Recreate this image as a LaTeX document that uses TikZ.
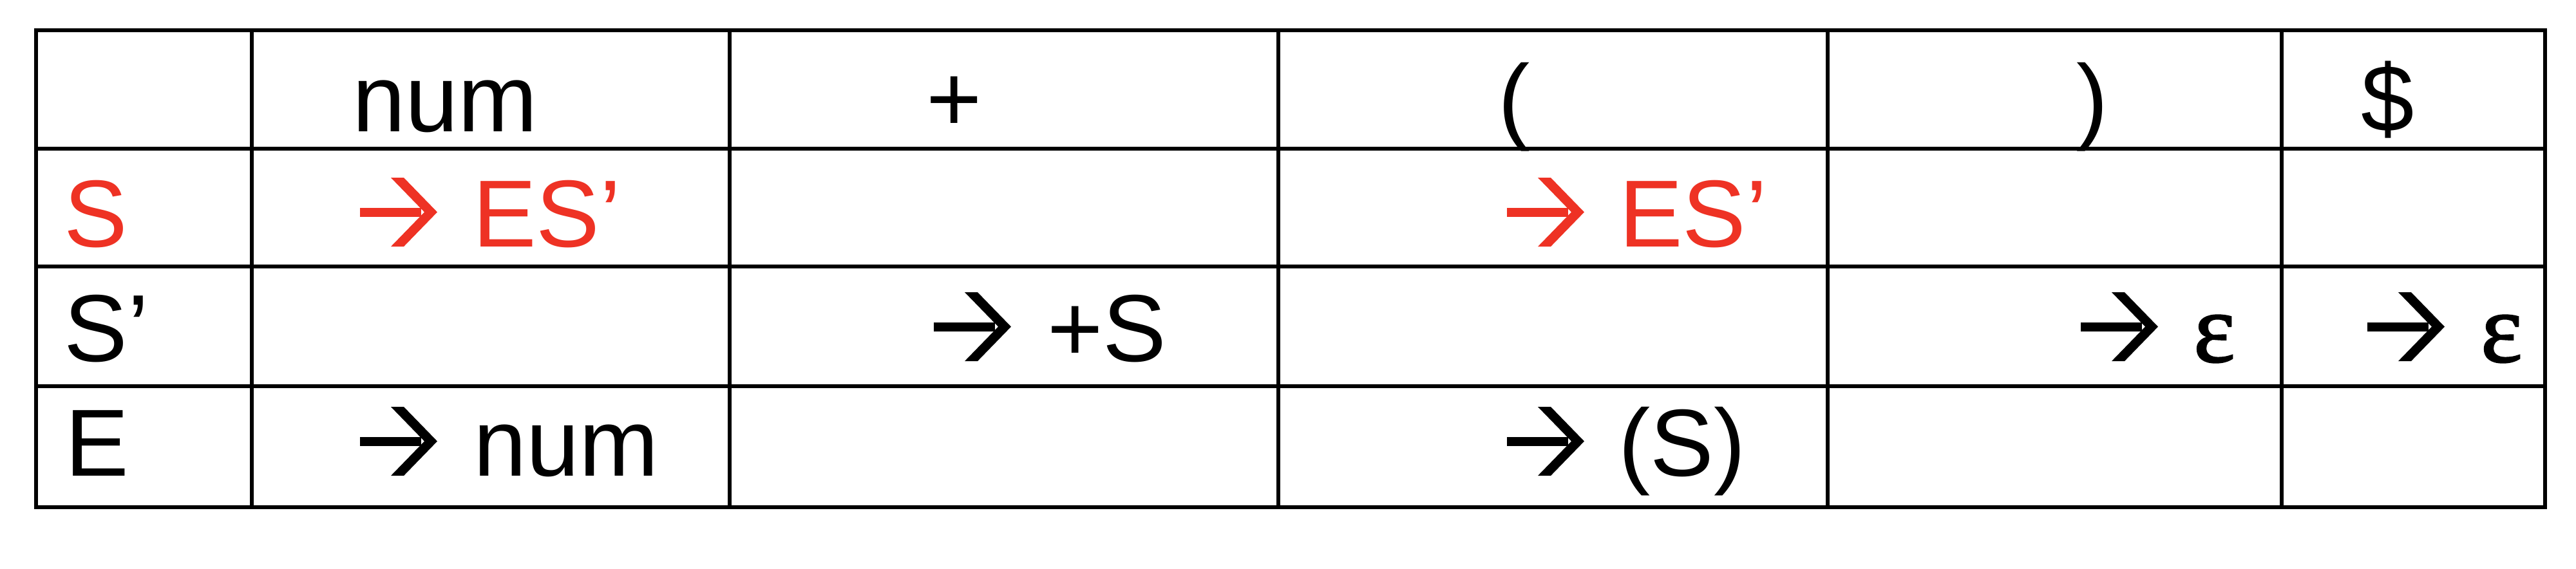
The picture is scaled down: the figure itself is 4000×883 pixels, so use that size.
\documentclass[tikz,border=0pt]{standalone}
\usepackage{fontspec}
\setmainfont{Liberation Sans}
\newfontfamily\epsfont[FakeBold=1.5]{Liberation Serif}
\definecolor{tred}{HTML}{EE3224}
\tikzset{
  grid line/.style={line width=0.6pt, black, line cap=rect},
  celltext/.style={anchor=base west, inner sep=0pt, outer sep=0pt,
    font=\fontsize{14.8pt}{17pt}\selectfont},
  redtext/.style={celltext, text=tred},
  epstext/.style={celltext, font=\fontsize{15.4pt}{17pt}\epsfont},
  arrowglyph/.pic={
    \fill[pic actions] (0,-46.5) rectangle (95,-60.5);
    \fill[pic actions] (48,-107) -- (68,-107) -- (120,-53.5) -- (68,0) -- (48,0) -- (100,-53.5) -- cycle;
  }
}
\begin{document}
\begin{tikzpicture}[x=0.1pt, y=-0.1pt]
\useasboundingbox (0,0) rectangle (4000,883);
% grid
\foreach \yy in {47,231,414,600,788}
  \draw[grid line] (56,\yy) -- (3952,\yy);
\foreach \xx in {56,391,1133,1985,2838,3543,3952}
  \draw[grid line] (\xx,47) -- (\xx,788);
% header row
\node[celltext] (hnum) at (547,204) {num};
\node[celltext] (hplus) at (1438,204) {+};
\node[celltext] (hlp) at (2326,204) {(};
\node[celltext] (hrp) at (3224,204) {)};
\node[celltext] (hdol) at (3666,204) {\$};
% row labels
\node[redtext] (rS) at (100,383) {S};
\node[celltext] (rSp) at (100,561) {S’};
\node[celltext] (rE) at (101,739) {E};
% row S
\pic[fill=tred] (a1) at (559,383) {arrowglyph};
\node[redtext] (c11) at (734,383) {ES’};
\pic[fill=tred] (a2) at (2340,383) {arrowglyph};
\node[redtext] (c13) at (2514,383) {ES’};
% row S'
\pic[fill=black] (a3) at (1450,561) {arrowglyph};
\node[celltext] (c22) at (1626,561) {+S};
\pic[fill=black] (a4) at (3231,561) {arrowglyph};
\node[epstext] (c24) at (3406,562) {ε};
\pic[fill=black] (a5) at (3676,561) {arrowglyph};
\node[epstext] (c25) at (3852,562) {ε};
% row E
\pic[fill=black] (a6) at (559,739) {arrowglyph};
\node[celltext] (c31) at (735,739) {num};
\pic[fill=black] (a7) at (2340,739) {arrowglyph};
\node[celltext] (c33) at (2513,739) {(S)};
\end{tikzpicture}
\end{document}
